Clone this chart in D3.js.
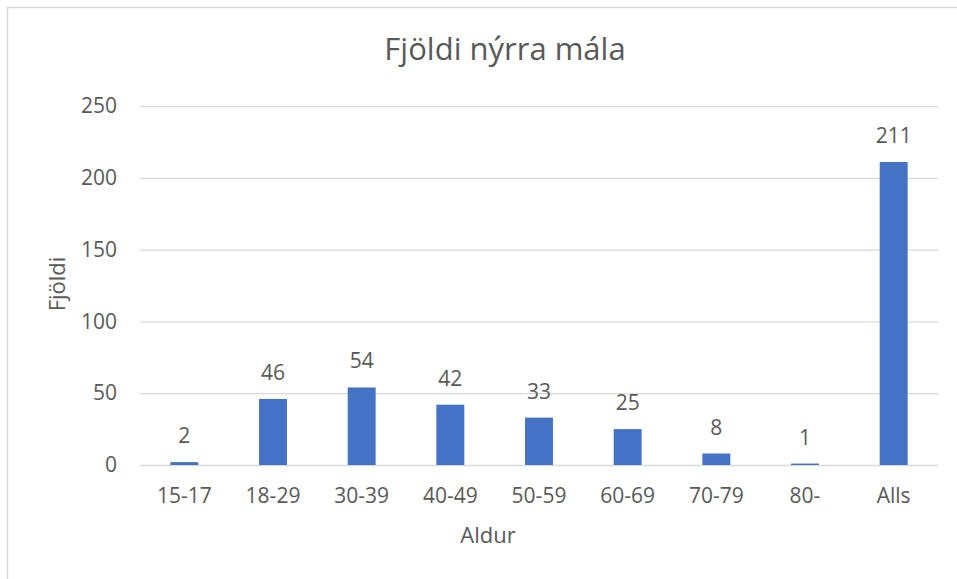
<!DOCTYPE html>
<html>
<head>
<meta charset="utf-8">
<script src="https://cdn.jsdelivr.net/npm/d3@7"></script>
<style>
  body { margin: 0; background: #fff; }
  text { font-family: "Open Sans", sans-serif; fill: #595959; }
</style>
</head>
<body>
<div id="chart"></div>
<script>
var categories = ["15-17", "18-29", "30-39", "40-49", "50-59", "60-69", "70-79", "80-", "Alls"];
var counts = [2, 46, 54, 42, 33, 25, 8, 1, 211];
var yTicks = [0, 50, 100, 150, 200, 250];

var W = 957, H = 579;
var margin = { top: 106, right: 19, bottom: 114, left: 140 },
    width = W - margin.left - margin.right,
    height = H - margin.top - margin.bottom;

var root = d3.select("#chart")
    .append("svg")
    .attr("width", W)
    .attr("height", H);

// chart frame (only left and top visible in the crop)
root.append("path")
    .attr("d", "M7.5," + H + "V7.5H" + W)
    .attr("fill", "none")
    .attr("stroke", "#d9d9d9")
    .attr("stroke-width", 1.5);

var svg = root.append("g")
    .attr("transform", "translate(" + margin.left + "," + margin.top + ")");

var x = d3.scaleBand()
    .domain(categories)
    .range([0, width])
    .paddingInner(0.685)
    .paddingOuter(0.3425);

var y = d3.scaleLinear()
    .domain([0, 250])
    .range([height, 0]);

// gridlines
svg.selectAll(".grid")
    .data(yTicks)
    .enter()
    .append("line")
    .attr("x1", 0)
    .attr("x2", width)
    .attr("y1", function (d) { return y(d) + 0.5; })
    .attr("y2", function (d) { return y(d) + 0.5; })
    .attr("stroke", "#d9d9d9")
    .attr("stroke-width", 1.3);

// y axis labels
var yAxis = svg.append("g")
    .call(d3.axisLeft(y).tickValues(yTicks).tickSize(0).tickPadding(23));
yAxis.select(".domain").remove();
yAxis.selectAll("text").style("font-size", "21px").attr("fill", "#595959");

// x axis labels
var xAxis = svg.append("g")
    .attr("transform", "translate(0," + height + ")")
    .call(d3.axisBottom(x).tickSize(0).tickPadding(23));
xAxis.select(".domain").remove();
xAxis.selectAll("text").style("font-size", "21px").attr("fill", "#595959");

// bars
svg.selectAll(".bar")
    .data(counts)
    .enter()
    .append("rect")
    .attr("x", function (d, i) { return x(categories[i]); })
    .attr("y", function (d) { return y(d); })
    .attr("width", x.bandwidth())
    .attr("height", function (d) { return height - y(d); })
    .attr("fill", "#4472c4");

// value labels
svg.selectAll(".lbl")
    .data(counts)
    .enter()
    .append("text")
    .attr("x", function (d, i) { return x(categories[i]) + x.bandwidth() / 2; })
    .attr("y", function (d) { return y(d) - 19; })
    .attr("text-anchor", "middle")
    .style("font-size", "21px")
    .text(function (d) { return d; });

// title
root.append("text")
    .attr("x", 505)
    .attr("y", 60)
    .attr("text-anchor", "middle")
    .style("font-size", "31px")
    .text("Fjöldi nýrra mála");

// axis titles
root.append("text")
    .attr("x", 488)
    .attr("y", 543)
    .attr("text-anchor", "middle")
    .style("font-size", "22px")
    .text("Aldur");

root.append("text")
    .attr("transform", "translate(65,284) rotate(-90)")
    .attr("text-anchor", "middle")
    .style("font-size", "22px")
    .text("Fjöldi");
</script>
</body>
</html>
